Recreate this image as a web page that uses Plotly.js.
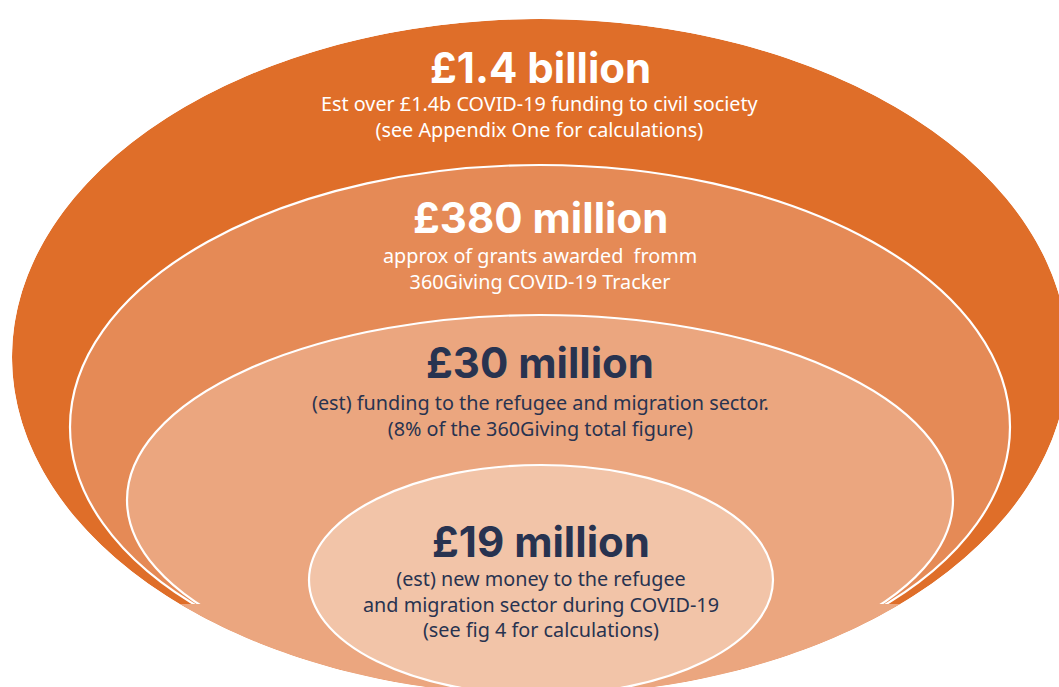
<!DOCTYPE html>
<html>
<head>
<meta charset="utf-8">
<script src="https://cdn.plot.ly/plotly-3.0.1.min.js"></script>
<style>
  html, body { margin: 0; padding: 0; background: #fff; }
  #chart { width: 1059px; height: 687px; }
</style>
</head>
<body>
<div id="chart"></div>
<script>
// figures, outer ring first
const amounts = ["£1.4 billion", "£380 million", "£30 million", "£19 million"];
const notes = [
  ["Est over £1.4b COVID-19 funding to civil society", "(see Appendix One for calculations)"],
  ["approx of grants awarded  fromm", "360Giving COVID-19 Tracker"],
  ["(est) funding to the refugee and migration sector.", "(8% of the 360Giving total figure)"],
  ["(est) new money to the refugee", "and migration sector during COVID-19", "(see fig 4 for calculations)"]
];
const ringColors = ["#DF6E29", "#E58A56", "#EBA67F", "#F2C4A8"];
const textColors = ["#FFFFFF", "#FFFFFF", "#283350", "#283350"];

// drawing geometry (pixel units, y down)
const rings = [
  { cx: 540, cy: 357, rx: 528, ry: 338 },
  { cx: 540, cy: 427, rx: 470, ry: 262 },
  { cx: 540, cy: 500, rx: 413, ry: 185 },
  { cx: 541, cy: 580, rx: 232, ry: 115 }
];
const headY = [67, 217, 362, 541];
const noteY = [104, 256, 403, 579]; // first line of each note
const lineGap = 24.5;
const baseCut = 604;

function ellipsePts(e, t0, t1, n) {
  const pts = [];
  for (let i = 0; i <= n; i++) {
    const t = t0 + (t1 - t0) * i / n;
    pts.push([e.cx + e.rx * Math.cos(t), e.cy + e.ry * Math.sin(t)]);
  }
  return pts;
}
function toPath(pts) {
  return pts.map((p, i) => (i ? "L" : "M") + p[0].toFixed(2) + "," + p[1].toFixed(2)).join(" ") + " Z";
}

const shapes = [];
rings.forEach(function (e, i) {
  if (i === 3) {
    // lower part of the outer ring carries the third tone
    const o = rings[0];
    const t0 = Math.asin((baseCut - o.cy) / o.ry);
    shapes.push({
      type: "path", xref: "x", yref: "y",
      path: toPath(ellipsePts(o, t0, Math.PI - t0, 120)),
      fillcolor: ringColors[2], line: { width: 0 }
    });
  }
  shapes.push({
    type: "circle", xref: "x", yref: "y",
    x0: e.cx - e.rx, x1: e.cx + e.rx, y0: e.cy - e.ry, y1: e.cy + e.ry,
    fillcolor: ringColors[i],
    line: { color: i === 0 ? ringColors[0] : "#FFFFFF", width: i === 0 ? 0 : 2.2 }
  });
});
// white mask outside the outer ring
shapes.push({
  type: "path", xref: "x", yref: "y",
  path: "M-20,-20 L1080,-20 L1080,710 L-20,710 Z " + toPath(ellipsePts(rings[0], 0, 2 * Math.PI, 360)),
  fillcolor: "#FFFFFF", fillrule: "evenodd", line: { width: 0 }
});

const annotations = [];
amounts.forEach(function (a, i) {
  annotations.push({
    x: rings[i].cx, y: headY[i], xref: "x", yref: "y", showarrow: false,
    text: "<b>" + a + "</b>",
    font: { family: "Inter, 'Open Sans', sans-serif", size: 42, color: textColors[i], weight: 800 },
    xanchor: "center", yanchor: "middle"
  });
  annotations.push({
    x: rings[i].cx, y: noteY[i] + (notes[i].length - 1) * lineGap / 2,
    xref: "x", yref: "y", showarrow: false,
    text: notes[i].join("<br>"),
    font: { family: "'Noto Sans', 'Open Sans', sans-serif", size: 19.8, color: textColors[i] },
    xanchor: "center", yanchor: "middle", align: "center"
  });
});

const layout = {
  width: 1059, height: 687,
  margin: { l: 0, r: 0, t: 0, b: 0 },
  paper_bgcolor: "#FFFFFF", plot_bgcolor: "#FFFFFF",
  xaxis: { range: [0, 1059], visible: false, fixedrange: true },
  yaxis: { range: [687, 0], visible: false, fixedrange: true },
  showlegend: false,
  shapes: shapes,
  annotations: annotations
};

Plotly.newPlot("chart", [{ x: [0, 1059], y: [0, 687], mode: "markers", marker: { opacity: 0 }, hoverinfo: "skip" }], layout, { displayModeBar: false, staticPlot: true });
</script>
</body>
</html>
